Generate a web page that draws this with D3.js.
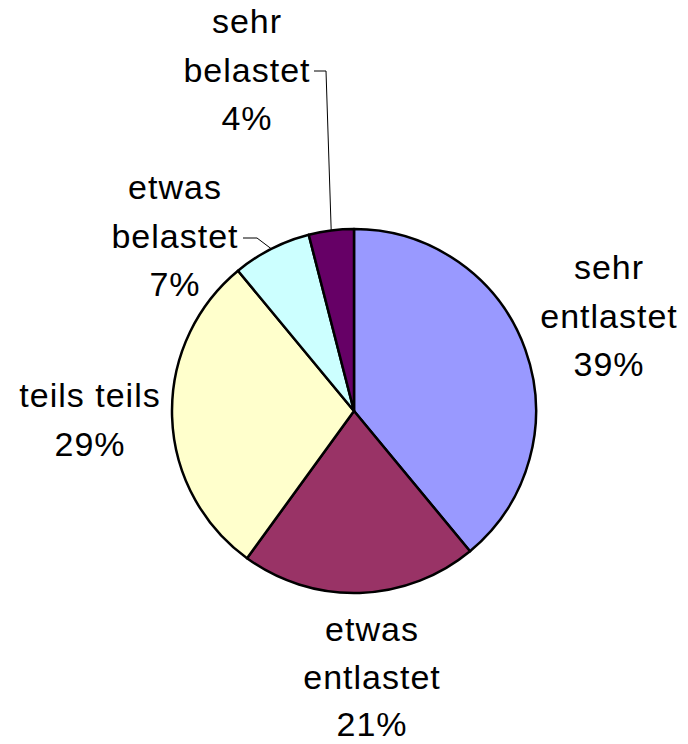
<!DOCTYPE html>
<html><head><meta charset="utf-8">
<script src="https://cdn.jsdelivr.net/npm/d3@7"></script>
<style>html,body{margin:0;padding:0;background:#fff;}svg{display:block;}</style>
</head><body>
<svg id="chart" width="688" height="744"></svg>
<script>
const categories = ["sehr entlastet", "etwas entlastet", "teils teils", "etwas belastet", "sehr belastet"];
const values = [39, 21, 29, 7, 4];
const labelLines = [["sehr", "entlastet"], ["etwas", "entlastet"], ["teils teils"], ["etwas", "belastet"], ["sehr", "belastet"]];
const colors = ["#9999FF", "#993366", "#FFFFCC", "#CCFFFF", "#660066"];

const W = 688, H = 744;
const cx = 354, cy = 411, R = 182;
const fontSize = 34;
// label anchor: center x, baseline of first line, line height
const labelPos = [[609, 279, 48.5], [372, 641, 47.5], [90, 407, 48.5], [175, 199, 48.5], [247, 33, 48.5]];
// leader lines: [elbow point, end point] (pie edge point computed)
const leaders = {3: [[257, 238], [243, 238]], 4: [[326, 71], [314, 71]]};

const svg = d3.select("#chart");
const data = categories.map((c, i) => ({cat: c, value: values[i], i}));
const pie = d3.pie().sort(null).value(d => d.value);
const arcs = pie(data);
const arc = d3.arc().innerRadius(0).outerRadius(R);

const g = svg.append("g").attr("transform", `translate(${cx},${cy})`);
g.selectAll("path").data(arcs).join("path")
  .attr("d", arc)
  .attr("fill", d => colors[d.data.i])
  .attr("stroke", "#000").attr("stroke-width", 2.5).attr("stroke-linejoin", "round");

// leader lines
arcs.forEach(a => {
  const L = leaders[a.data.i];
  if (!L) return;
  const mid = (a.startAngle + a.endAngle) / 2;
  const p0 = [cx + R * Math.sin(mid), cy - R * Math.cos(mid)];
  svg.append("polyline")
    .attr("points", [p0, L[0], L[1]].map(p => p.join(",")).join(" "))
    .attr("fill", "none").attr("stroke", "#000").attr("stroke-width", 1);
});

// labels
arcs.forEach(a => {
  const i = a.data.i;
  const lines = labelLines[i].concat([Math.round(a.data.value / d3.sum(values) * 100) + "%"]);
  const [x, y, lh] = labelPos[i];
  const t = svg.append("text")
    .attr("text-anchor", "middle")
    .attr("font-family", "Liberation Sans, Arial, sans-serif")
    .attr("font-size", fontSize)
    .attr("letter-spacing", 1)
    .attr("fill", "#000");
  lines.forEach((ln, k) => {
    t.append("tspan").attr("x", x).attr("y", y + k * lh).text(ln);
  });
});
</script>
</body></html>
